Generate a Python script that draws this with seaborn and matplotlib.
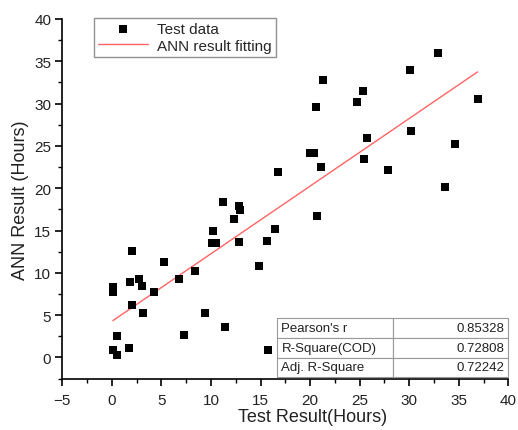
import numpy as np
import pandas as pd
import matplotlib
matplotlib.use("Agg")
import matplotlib.pyplot as plt
from matplotlib.ticker import MultipleLocator
import seaborn as sns

# test data (Test Result vs ANN Result, hours)
test_x = [11.18, 12.83, 12.96, 12.29, 16.46, 10.23, 10.10, 10.47, 12.83, 15.62,
          14.84, 2.00, 5.26, 8.39, 6.77, 2.73, 3.00, 1.83, 0.08, 0.14,
          4.28, 2.00, 3.17, 9.39, 11.41, 7.30, 0.48, 0.08, 0.48, 1.76,
          15.72, 32.90, 30.08, 21.27, 25.30, 24.73, 20.56, 36.90, 25.77, 30.20,
          34.60, 19.95, 20.35, 21.10, 16.79, 25.47, 27.86, 33.65, 20.73]
ann_y = [18.35, 17.87, 17.43, 16.37, 15.19, 14.99, 13.57, 13.57, 13.65, 13.77,
         10.85, 12.55, 11.29, 10.19, 9.28, 9.28, 8.42, 8.89, 8.30, 7.70,
         7.70, 6.20, 5.22, 5.22, 3.64, 2.70, 2.58, 0.92, 0.30, 1.09,
         0.89, 36.00, 34.00, 32.76, 31.54, 30.16, 29.65, 30.60, 25.95, 26.74,
         25.27, 24.14, 24.14, 22.50, 21.96, 23.43, 22.20, 20.10, 16.76]

# fitted line end points
fit_x = [0.1, 36.9]
fit_y = [4.35, 33.75]

stat_names = ["Pearson's r", "R-Square(COD)", "Adj. R-Square"]
stat_values = ["0.85328", "0.72808", "0.72242"]

df = pd.DataFrame({"x": test_x, "y": ann_y})
df_fit = pd.DataFrame({"x": fit_x, "y": fit_y})

sns.set_style("ticks")
plt.rcParams['font.family'] = ['Liberation Sans', 'DejaVu Sans']

fig = plt.figure(figsize=(5.18, 4.31), dpi=100)
ax = fig.add_axes([0.1203, 0.1183, 0.8610, 0.8353])

sns.scatterplot(data=df, x="x", y="y", marker="s", color="black", s=30,
                linewidth=0, ax=ax, label="Test data", zorder=3)
sns.lineplot(data=df_fit, x="x", y="y", color="#ff6464", linewidth=1.0,
             ax=ax, label="ANN result fitting", zorder=2)

ax.set_xlim(-5, 40)
ax.set_ylim(-2.55, 40)
ax.xaxis.set_major_locator(MultipleLocator(5))
ax.xaxis.set_minor_locator(MultipleLocator(2.5))
ax.yaxis.set_major_locator(MultipleLocator(5))
ax.yaxis.set_minor_locator(MultipleLocator(2.5))
ax.tick_params(which="major", length=5, width=1.2, direction="out",
               labelsize=11, colors="black", labelcolor="#222222")
ax.tick_params(axis="x", which="major", pad=5)
ax.tick_params(axis="y", which="major", pad=3)
ax.tick_params(which="minor", length=3, width=1.0, direction="out", colors="black")
ax.set_yticks(range(0, 41, 5))
ax.set_xticks(range(-5, 41, 5))

sns.despine(ax=ax)
for sp in ["left", "bottom"]:
    ax.spines[sp].set_linewidth(1.2)
    ax.spines[sp].set_color("black")

ax.set_xlabel("Test Result(Hours)", fontsize=13, color="#222222", labelpad=1)
ax.xaxis.label.set_x(0.562)
ax.set_ylabel("ANN Result (Hours)", fontsize=13, color="#222222", labelpad=4)

leg = ax.legend(loc="upper left", bbox_to_anchor=(0.071, 1.003), borderaxespad=0,
                fancybox=False, frameon=True, edgecolor="#777777", fontsize=11,
                handlelength=3.3, handletextpad=0.6, borderpad=0.25,
                labelspacing=0.2, markerscale=1.0)
leg.get_frame().set_linewidth(1.0)

tbl = ax.table(cellText=[[n, v] for n, v in zip(stat_names, stat_values)],
               bbox=[0.481, 0.005, 0.519, 0.164], zorder=4)
tbl.auto_set_font_size(False)
tbl.set_fontsize(9.5)
for (r, c), cell in tbl.get_celld().items():
    cell.set_edgecolor("#999999")
    cell.set_linewidth(0.8)
    cell.set_facecolor("white")
    cell.get_text().set_color("#222222")
    if c == 0:
        cell.get_text().set_ha("left")
        cell.PAD = 0.04
    else:
        cell.get_text().set_ha("right")
        cell.PAD = 0.03

fig.savefig("out.png", dpi=100)
